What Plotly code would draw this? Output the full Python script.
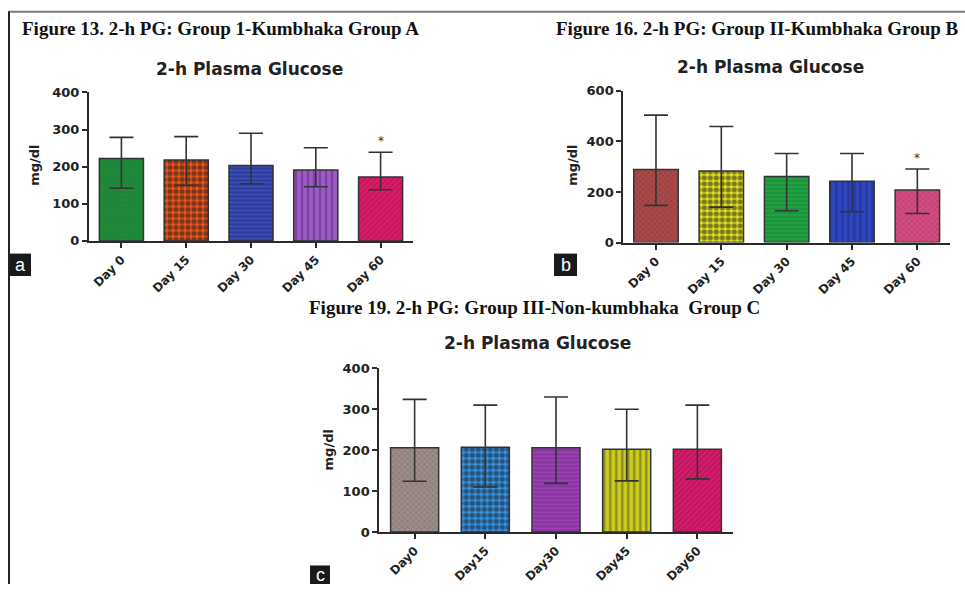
import plotly.graph_objects as go

W, H = 965, 592

# ---------------- data ----------------
days_ab = ["Day 0", "Day 15", "Day 30", "Day 45", "Day 60"]
days_c = ["Day0", "Day15", "Day30", "Day45", "Day60"]

a_mean = [222, 218, 203, 191, 172]
a_upper = [279, 281, 290, 251, 239]
a_lower = [142, 150, 154, 146, 138]

b_mean = [289, 283, 261, 242, 208]
b_upper = [504, 459, 352, 352, 291]
b_lower = [147, 140, 126, 122, 115]

c_mean = [206, 207, 206, 202, 202]
c_upper = [324, 310, 330, 300, 310]
c_lower = [124, 110, 119, 125, 130]

fig_titles = [
    "Figure 13. 2-h PG: Group 1-Kumbhaka Group A",
    "Figure 16. 2-h PG: Group II-Kumbhaka Group B",
    "Figure 19. 2-h PG: Group III-Non-kumbhaka  Group C",
]
chart_title = "2-h Plasma Glucose"
y_label = "mg/dl"

# ---------------- styles ----------------
a_colors = ["#17893b", "#e8581e", "#2c3a9e", "#9d5cc2", "#d81c6a"]
a_fg = ["#4f7a2c", "#111111", "#5a6ad0", "#5e2286", "#a4104c"]
a_shape = [".", ".", "-", "|", "/"]

b_colors = ["#a84a4a", "#e2e024", "#22a242", "#2f46c0", "#d24c82"]
b_fg = ["#7a2a2a", "#111111", "#127a2c", "#1a2a80", "#a02a5a"]
b_shape = ["x", ".", "-", "|", "x"]

c_colors = ["#9c8c8a", "#3a94e0", "#9a42b2", "#cdcd22", "#d41c6c"]
c_fg = ["#6a5c5a", "#111111", "#6a2080", "#4e4e10", "#9a0c48"]
c_shape = ["x", ".", "-", "|", "/"]

AX = "#2b2b2b"


def px_x(p):
    return p / W


def px_y(p):
    return 1 - p / H


fig = go.Figure()

panels = [
    dict(cats=days_ab, mean=a_mean, up=a_upper, lo=a_lower, colors=a_colors, fg=a_fg,
         shape=a_shape, xd=(89, 413), y0=240, ytop=87.7, yr=400, dt=100, ax="",
         sizes=[5, 6, 4, 6, 4], sol=[0.3, 0.6, 0.4, 0.4, 0.35]),
    dict(cats=days_ab, mean=b_mean, up=b_upper, lo=b_lower, colors=b_colors, fg=b_fg,
         shape=b_shape, xd=(623.3, 950), y0=241.7, ytop=86, yr=600, dt=200, ax="2",
         sizes=[4, 6, 4, 6, 4], sol=[0.3, 0.6, 0.4, 0.4, 0.3]),
    dict(cats=days_c, mean=c_mean, up=c_upper, lo=c_lower, colors=c_colors, fg=c_fg,
         shape=c_shape, xd=(379.3, 732.7), y0=538.7, ytop=370.7, yr=400, dt=100, ax="3",
         sizes=[4, 6, 4, 6, 4], sol=[0.3, 0.6, 0.4, 0.4, 0.35]),
]

layout_axes = {}
for p in panels:
    for i, cat in enumerate(p["cats"]):
        m = p["mean"][i]
        fig.add_trace(go.Bar(
            x=[cat], y=[m],
            xaxis="x" + p["ax"], yaxis="y" + p["ax"],
            marker=dict(color=p["colors"][i], line=dict(color="#333333", width=1.5),
                        pattern=dict(shape=p["shape"][i], fgcolor=p["fg"][i],
                                     bgcolor=p["colors"][i], size=p["sizes"][i],
                                     solidity=p["sol"][i])),
            error_y=dict(type="data", symmetric=False, array=[p["up"][i] - m],
                         arrayminus=[m - p["lo"][i]],
                         color="#333333", thickness=1.6, width=12),
            showlegend=False, hoverinfo="skip",
        ))
    xa = "xaxis" + p["ax"]
    ya = "yaxis" + p["ax"]
    layout_axes[xa] = dict(
        domain=[px_x(p["xd"][0]), px_x(p["xd"][1])], anchor="y" + p["ax"],
        range=[-0.5, 4.5], showgrid=False, zeroline=False,
        categoryorder="array", categoryarray=p["cats"],
        showline=True, linecolor=AX, linewidth=2,
        ticks="outside", ticklen=5, tickwidth=2, tickcolor=AX,
        tickangle=-45, tickfont=dict(family="DejaVu Sans", size=12, color="#222", weight="bold"),
    )
    layout_axes[ya] = dict(
        domain=[px_y(p["y0"]), px_y(p["ytop"])], anchor="x" + p["ax"],
        range=[0, p["yr"]], dtick=p["dt"], showgrid=False, zeroline=False,
        showline=True, linecolor=AX, linewidth=2,
        ticks="outside", ticklen=5, tickwidth=2, tickcolor=AX,
        tickfont=dict(family="DejaVu Sans", size=13, color="#222", weight="bold"),
    )

fig.update_layout(**layout_axes)

ann = []
# figure titles
for txt, x, y in [(fig_titles[0], 20, 22), (fig_titles[1], 554, 22), (fig_titles[2], 307, 308)]:
    ann.append(dict(text=txt, x=px_x(x), y=px_y(y), xref="paper", yref="paper",
                    xanchor="left", yanchor="middle", showarrow=False,
                    font=dict(family="Liberation Serif", size=19, color="#111", weight="bold")))
# chart titles
for x, y in [(250, 64), (770, 62), (537, 345)]:
    ann.append(dict(text=chart_title, x=px_x(x), y=px_y(y), xref="paper", yref="paper",
                    xanchor="center", yanchor="middle", showarrow=False,
                    font=dict(family="DejaVu Sans", size=17, color="#222", weight="bold")))
# y labels
for x, y in [(35, 163), (573, 163), (328, 455)]:
    ann.append(dict(text=y_label, x=px_x(x), y=px_y(y), xref="paper", yref="paper",
                    xanchor="center", yanchor="middle", showarrow=False, textangle=-90,
                    font=dict(family="DejaVu Sans", size=13, color="#222", weight="bold")))
# significance stars
ann.append(dict(text="*", x=days_ab[4], y=a_upper[4], xref="x", yref="y", yshift=11,
                showarrow=False, font=dict(family="DejaVu Sans", size=12, color="#333")))
ann.append(dict(text="*", x=days_ab[4], y=b_upper[4], xref="x2", yref="y2", yshift=11,
                showarrow=False, font=dict(family="DejaVu Sans", size=12, color="#333")))

shapes = []
# panel letter boxes
for letter, x0, x1, y0, y1 in [("a", 10, 31, 253, 276), ("b", 554, 577, 253, 276), ("c", 310, 330, 573, 592)]:
    shapes.append(dict(type="rect", xref="paper", yref="paper", x0=px_x(x0), x1=px_x(x1),
                       y0=px_y(y1), y1=px_y(y0), fillcolor="#1a1a1a", line=dict(width=0)))
    ann.append(dict(text=letter, x=px_x((x0 + x1) / 2), y=px_y((y0 + y1) / 2), xref="paper", yref="paper",
                    xanchor="center", yanchor="middle", showarrow=False,
                    font=dict(family="Liberation Sans", size=18, color="white")))
# frame lines
shapes.append(dict(type="line", xref="paper", yref="paper", x0=px_x(8), x1=1, y0=px_y(5), y1=px_y(5),
                   line=dict(color="#7a7a7a", width=2)))
shapes.append(dict(type="line", xref="paper", yref="paper", x0=px_x(9), x1=px_x(9), y0=px_y(5), y1=0,
                   line=dict(color="#222222", width=2)))

fig.update_layout(
    width=W, height=H, margin=dict(l=0, r=0, t=0, b=0),
    paper_bgcolor="white", plot_bgcolor="white",
    barmode="overlay", bargap=0.32, annotations=ann, shapes=shapes,
)

fig.write_html(
    "out.html",
    config={"displayModeBar": False},
    post_script="document.body.style.margin='0';document.body.style.overflow='hidden';",
)
